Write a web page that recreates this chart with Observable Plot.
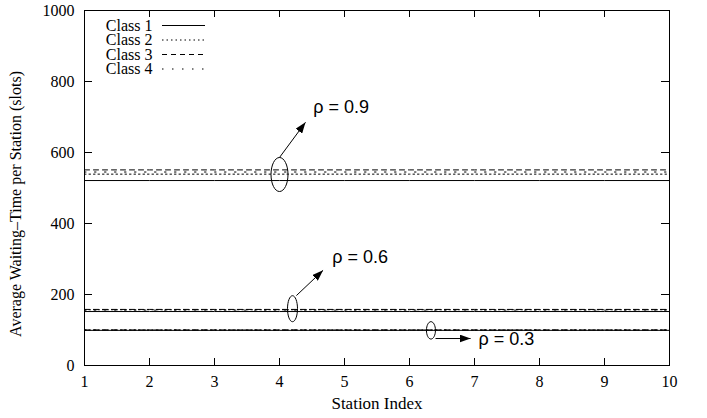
<!DOCTYPE html>
<html>
<head>
<meta charset="utf-8">
<script src="https://cdn.jsdelivr.net/npm/d3@7"></script>
<script src="https://cdn.jsdelivr.net/npm/@observablehq/plot@0.6"></script>
<style>
  html, body { margin: 0; padding: 0; background: #fff; }
  #chart svg { display: block; }
</style>
</head>
<body>
<div id="chart"></div>
<script>
// ---------- data ----------
const stations = [1, 2, 3, 4, 5, 6, 7, 8, 9, 10];
const classNames = ["Class 1", "Class 2", "Class 3", "Class 4"];
const loads = ["0.3", "0.6", "0.9"];

// rho = 0.3
const class1Rho03 = [99, 99, 99, 99, 99, 99, 99, 99, 99, 99];
const class2Rho03 = [100, 100, 100, 100, 100, 100, 100, 100, 100, 100];
const class3Rho03 = [100, 100, 100, 100, 100, 100, 100, 100, 100, 100];
const class4Rho03 = [100, 100, 100, 100, 100, 100, 100, 100, 100, 100];
// rho = 0.6
const class1Rho06 = [152, 152, 152, 152, 152, 152, 152, 152, 152, 152];
const class2Rho06 = [157, 157, 157, 157, 157, 157, 157, 157, 157, 157];
const class3Rho06 = [158, 158, 158, 158, 158, 158, 158, 158, 158, 158];
const class4Rho06 = [156, 156, 156, 156, 156, 156, 156, 156, 156, 156];
// rho = 0.9
const class1Rho09 = [521, 521, 521, 521, 521, 521, 521, 521, 521, 521];
const class2Rho09 = [539, 539, 539, 539, 539, 539, 539, 539, 539, 539];
const class3Rho09 = [551, 551, 551, 551, 551, 551, 551, 551, 551, 551];
const class4Rho09 = [545, 545, 545, 545, 545, 545, 545, 545, 545, 545];

const xTicks = [1, 2, 3, 4, 5, 6, 7, 8, 9, 10];
const yTicks = [0, 200, 400, 600, 800, 1000];

// annotations (data units)
const annLabels = ["ρ = 0.9", "ρ = 0.6", "ρ = 0.3"];
const ellX = [4.0, 4.2, 6.33];
const ellY = [538, 160, 99];
const arrowX1 = [4.0, 4.26, 6.4];
const arrowY1 = [586, 197, 76];
const arrowX2 = [4.4, 4.67, 6.94];
const arrowY2 = [685, 268, 76];
const labelX = [4.52, 4.81, 7.06];
const labelY = [727, 306, 73];

// ---------- styles ----------
const W = 707, H = 418;
const M = {top: 10, right: 38, bottom: 53, left: 84};
const plotW = W - M.left - M.right;
const plotH = H - M.top - M.bottom;
const dashes = [null, "1.5,3", "5,4", "1.5,8.5"];
const ellipseShapes = [[8.5, 17], [5, 13], [4.5, 8.7]]; // rx, ry in px

function ellipseSymbol(rx, ry) {
  const k = 0.5523;
  return {
    draw(ctx) {
      ctx.moveTo(rx, 0);
      ctx.bezierCurveTo(rx, k * ry, k * rx, ry, 0, ry);
      ctx.bezierCurveTo(-k * rx, ry, -rx, k * ry, -rx, 0);
      ctx.bezierCurveTo(-rx, -k * ry, -k * rx, -ry, 0, -ry);
      ctx.bezierCurveTo(k * rx, -ry, rx, -k * ry, rx, 0);
      ctx.closePath();
    }
  };
}

// ---------- table ----------
const seriesArrays = [
  [class1Rho03, class2Rho03, class3Rho03, class4Rho03],
  [class1Rho06, class2Rho06, class3Rho06, class4Rho06],
  [class1Rho09, class2Rho09, class3Rho09, class4Rho09]
];
const rows = [];
loads.forEach((rho, li) => {
  classNames.forEach((cls, ci) => {
    seriesArrays[li][ci].forEach((v, si) => {
      rows.push({station: stations[si], wait: v, cls, ci, rho});
    });
  });
});

const marks = [];

// data lines
classNames.forEach((cls, ci) => {
  marks.push(Plot.line(rows.filter(d => d.ci === ci), {
    x: "station", y: "wait", z: "rho",
    stroke: "black", strokeWidth: 1,
    strokeDasharray: dashes[ci] || undefined
  }));
});

// frame
marks.push(Plot.frame({stroke: "black", strokeWidth: 1}));

// inward ticks (all four sides)
marks.push(Plot.tickX(xTicks, {x: d => d, stroke: "black", insetTop: plotH - 7}));
marks.push(Plot.tickX(xTicks, {x: d => d, stroke: "black", insetBottom: plotH - 7}));
marks.push(Plot.tickY(yTicks, {y: d => d, stroke: "black", insetRight: plotW - 8}));
marks.push(Plot.tickY(yTicks, {y: d => d, stroke: "black", insetLeft: plotW - 8}));

// tick labels
marks.push(Plot.axisX({ticks: xTicks, tickSize: 0, tickPadding: 10, label: null, tickFormat: d => String(d)}));
marks.push(Plot.axisY({ticks: yTicks, tickSize: 0, tickPadding: 10, label: null, tickFormat: d => String(d)}));

// axis titles
marks.push(Plot.text(["Station Index"], {frameAnchor: "bottom", dy: 38, textAnchor: "middle", lineAnchor: "middle", fontSize: 17}));
marks.push(Plot.text(["Average Waiting–Time per Station (slots)"], {frameAnchor: "left", dx: -69, dy: 16, rotate: -90, textAnchor: "middle", lineAnchor: "middle", fontSize: 16}));

// legend
const legendRowY = [15, 29.5, 44, 58.5];
classNames.forEach((cls, ci) => {
  marks.push(Plot.text([cls], {frameAnchor: "top-left", dx: 68, dy: legendRowY[ci], textAnchor: "end", lineAnchor: "middle", fontSize: 16}));
  marks.push(Plot.ruleY([1000], {dy: legendRowY[ci], insetLeft: 78, insetRight: plotW - 121, stroke: "black", strokeWidth: 1, strokeDasharray: dashes[ci] || undefined}));
});

// annotation ellipses
annLabels.forEach((lab, i) => {
  marks.push(Plot.dot([i], {
    x: d => ellX[d], y: d => ellY[d],
    symbol: ellipseSymbol(...ellipseShapes[i]),
    stroke: "black", strokeWidth: 1, fill: "none", r: 5
  }));
});

// arrows
marks.push(Plot.link([0, 1, 2], {
  x1: d => arrowX1[d], y1: d => arrowY1[d], x2: d => arrowX2[d], y2: d => arrowY2[d],
  stroke: "black", strokeWidth: 1, className: "ann-arrow"
}));

// labels
marks.push(Plot.text(annLabels, {
  x: labelX, y: labelY, text: d => d, textAnchor: "start", lineAnchor: "middle",
  fontFamily: "Liberation Sans, Arial, sans-serif", fontSize: 18
}));

const chart = Plot.plot({
  width: W, height: H,
  marginTop: M.top, marginRight: M.right, marginBottom: M.bottom, marginLeft: M.left,
  x: {domain: [1, 10]},
  y: {domain: [0, 1000]},
  style: {fontFamily: "Liberation Serif, 'Times New Roman', serif", fontSize: "16px", background: "#fff", color: "black"},
  marks
});

// filled arrow heads
const ns = "http://www.w3.org/2000/svg";
const defs = document.createElementNS(ns, "defs");
const marker = document.createElementNS(ns, "marker");
marker.setAttribute("id", "ahead");
marker.setAttribute("viewBox", "0 0 11 8");
marker.setAttribute("refX", "11");
marker.setAttribute("refY", "4");
marker.setAttribute("markerWidth", "11");
marker.setAttribute("markerHeight", "8");
marker.setAttribute("markerUnits", "userSpaceOnUse");
marker.setAttribute("orient", "auto");
const mp = document.createElementNS(ns, "path");
mp.setAttribute("d", "M0,0L11,4L0,8Z");
mp.setAttribute("fill", "black");
marker.appendChild(mp);
defs.appendChild(marker);
chart.insertBefore(defs, chart.firstChild);
chart.querySelectorAll(".ann-arrow path, g.ann-arrow path").forEach(p => p.setAttribute("marker-end", "url(#ahead)"));

document.getElementById("chart").appendChild(chart);
</script>
</body>
</html>
